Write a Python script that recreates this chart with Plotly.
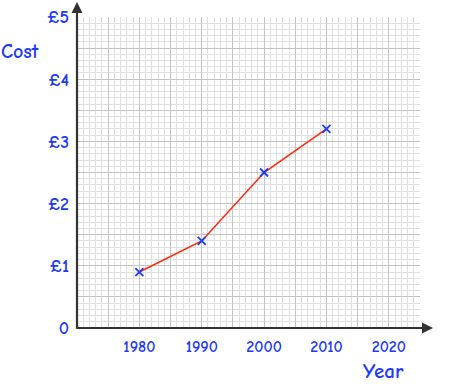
import plotly.graph_objects as go

years = [1980, 1990, 2000, 2010]
costs = [0.9, 1.4, 2.5, 3.2]

x_tickvals = [1975, 1980, 1985, 1990, 1995, 2000, 2005, 2010, 2015, 2020]
x_ticktext = ["", "1980", "", "1990", "", "2000", "", "2010", "", "2020"]
y_tickvals = [0, 0.5, 1, 1.5, 2, 2.5, 3, 3.5, 4, 4.5, 5]
y_ticktext = ["0", "", "£1", "", "£2", "", "£3", "", "£4", "", "£5"]

BLUE = "#1f3cf5"
FONT = "Comic Sans MS, Comic Neue, Lato, sans-serif"

fig = go.Figure()
fig.add_trace(go.Scatter(
    x=years, y=costs, mode="lines+markers",
    line=dict(color="#ff2a10", width=1.6),
    marker=dict(symbol="x-thin", size=8, line=dict(color=BLUE, width=1.8), color=BLUE),
    showlegend=False, cliponaxis=False, hoverinfo="skip",
))

W, H = 458, 386
L, R, T, B = 77, 38, 17, 58
pw = W - L - R
ph = H - T - B

fig.update_layout(
    width=W, height=H,
    margin=dict(l=L, r=R, t=T, b=B, autoexpand=False),
    paper_bgcolor="white", plot_bgcolor="white",
    font=dict(family=FONT, color=BLUE, size=15, weight=600),
    xaxis=dict(
        range=[1970, 2025], tickmode="array", tickvals=x_tickvals, ticktext=x_ticktext,
        showgrid=True, gridcolor="#c4c4c4", gridwidth=1.2,
        minor=dict(dtick=1, tick0=1970, showgrid=True, gridcolor="#e0e0e0", gridwidth=1),
        showline=False, zeroline=False, ticks="", ticklabelstandoff=7, automargin=False,
        tickfont=dict(size=16, color=BLUE, family=FONT, weight=600), fixedrange=True,
    ),
    yaxis=dict(
        range=[0, 5], tickmode="array", tickvals=y_tickvals, ticktext=y_ticktext,
        showgrid=True, gridcolor="#c4c4c4", gridwidth=1.2,
        minor=dict(dtick=0.1, tick0=0, showgrid=True, gridcolor="#e0e0e0", gridwidth=1),
        showline=False, zeroline=False, ticks="", ticklabelstandoff=7, automargin=False,
        tickfont=dict(size=18, color=BLUE, family=FONT, weight=600), fixedrange=True,
    ),
)

# axis lines with arrowheads
fig.add_annotation(xref="paper", yref="paper", x=(433 - L) / pw, y=0,
                   ax=-(433 - L) - 2, ay=0, axref="pixel", ayref="pixel",
                   showarrow=True, arrowhead=2, arrowsize=1, arrowwidth=2.2,
                   arrowcolor="#333333", text="")
fig.add_annotation(xref="paper", yref="paper", x=0, y=(H - B - 2) / ph,
                   ax=0, ay=(H - B - 2) + 2, axref="pixel", ayref="pixel",
                   showarrow=True, arrowhead=2, arrowsize=1, arrowwidth=2.2,
                   arrowcolor="#333333", text="")

fig.add_annotation(xref="paper", yref="paper", x=(20 - L) / pw, y=1 - (52 - T) / ph,
                   text="Cost", showarrow=False,
                   font=dict(size=20, color=BLUE, family=FONT, weight=600),
                   xanchor="center", yanchor="middle")
fig.add_annotation(xref="paper", yref="paper", x=(383 - L) / pw, y=1 - (371 - T) / ph,
                   text="Year", showarrow=False,
                   font=dict(size=21, color=BLUE, family=FONT, weight=600),
                   xanchor="center", yanchor="middle")

fig.write_html("out.html", config={"displayModeBar": False},
               post_script="document.body.style.margin='0';")
